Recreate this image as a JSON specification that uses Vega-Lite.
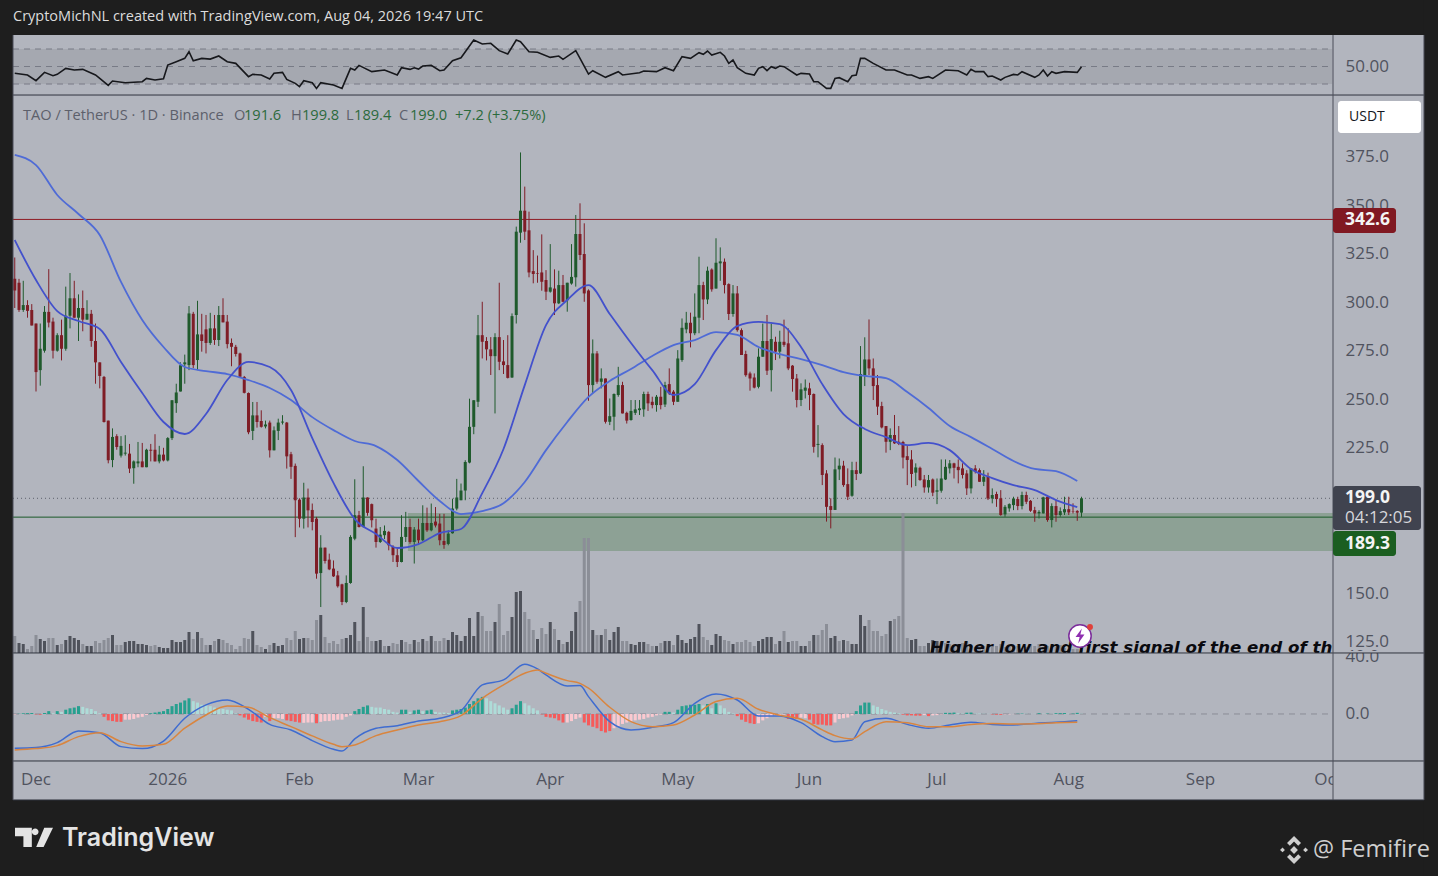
{
"$schema":"https://vega.github.io/schema/vega-lite/v6.json",
"width":1438,"height":876,"padding":0,"autosize":{"type":"none"},
"background":"#1e1e1e",
"view":{"fill":"#b2b5be","stroke":null},
"title":{"text":"CryptoMichNL created with TradingView.com, Aug 04, 2026 19:47 UTC","anchor":"start","frame":"group","offset":-24,"dx":13,"color":"#dcdcdc","font":"Open Sans","fontSize":14.5,"fontWeight":"normal","zindex":1},
"config":{"axis":{"domain":false,"ticks":false,"grid":false,"title":null,"labelFont":"Open Sans","labelFontSize":17,"labelColor":"#50535e","labelOverlap":false,"labelFlush":false,"labelBaseline":"middle","labelPadding":0,"zindex":0}},
"resolve":{"scale":{"y":"independent"}},
"datasets":{
"candles":[
{"date":"2025-11-26","open":312,"high":323,"low":297,"close":306},
{"date":"2025-11-27","open":310,"high":312,"low":295,"close":296},
{"date":"2025-11-28","open":296,"high":311,"low":295,"close":298.5},
{"date":"2025-11-29","open":298.5,"high":301,"low":292,"close":295.5},
{"date":"2025-11-30","open":296,"high":299,"low":288,"close":288},
{"date":"2025-12-01","open":289,"high":289,"low":254,"close":264},
{"date":"2025-12-02","open":265,"high":289,"low":257,"close":276},
{"date":"2025-12-03","open":275,"high":298,"low":274,"close":295},
{"date":"2025-12-04","open":295,"high":317,"low":287,"close":289.5},
{"date":"2025-12-05","open":290,"high":292,"low":271,"close":275},
{"date":"2025-12-06","open":275,"high":284,"low":274.5,"close":283},
{"date":"2025-12-07","open":283,"high":291,"low":270,"close":276},
{"date":"2025-12-08","open":276,"high":308,"low":275,"close":293},
{"date":"2025-12-09","open":293,"high":315,"low":286.5,"close":302},
{"date":"2025-12-10","open":302,"high":311,"low":292,"close":292},
{"date":"2025-12-11","open":292,"high":304,"low":280,"close":297},
{"date":"2025-12-12","open":297,"high":306,"low":285,"close":291},
{"date":"2025-12-13","open":291,"high":301,"low":291,"close":294},
{"date":"2025-12-14","open":294,"high":296,"low":277,"close":280},
{"date":"2025-12-15","open":280,"high":289,"low":258,"close":269},
{"date":"2025-12-16","open":269,"high":269,"low":255.6,"close":262},
{"date":"2025-12-17","open":261.5,"high":262,"low":238,"close":238.3},
{"date":"2025-12-18","open":239,"high":239,"low":217,"close":218.6},
{"date":"2025-12-19","open":218.7,"high":235,"low":215,"close":230.6},
{"date":"2025-12-20","open":231,"high":232,"low":224,"close":225.4},
{"date":"2025-12-21","open":221,"high":231,"low":220,"close":226},
{"date":"2025-12-22","open":222,"high":231.5,"low":221,"close":222.5},
{"date":"2025-12-23","open":222,"high":227,"low":212,"close":214.3},
{"date":"2025-12-24","open":214.5,"high":218.5,"low":206.5,"close":218},
{"date":"2025-12-25","open":217,"high":228,"low":215,"close":218},
{"date":"2025-12-26","open":218,"high":227.5,"low":215,"close":215},
{"date":"2025-12-27","open":215,"high":224.5,"low":215,"close":224},
{"date":"2025-12-28","open":224,"high":227,"low":218,"close":223.5},
{"date":"2025-12-29","open":224,"high":232,"low":218,"close":218},
{"date":"2025-12-30","open":218,"high":226,"low":217,"close":221.5},
{"date":"2025-12-31","open":221.5,"high":225,"low":218,"close":218.5},
{"date":"2026-01-01","open":218.5,"high":230.5,"low":218,"close":230},
{"date":"2026-01-02","open":230,"high":249.5,"low":229,"close":249.5},
{"date":"2026-01-03","open":248,"high":258,"low":243,"close":253.5},
{"date":"2026-01-04","open":254,"high":269,"low":254,"close":267.5},
{"date":"2026-01-05","open":268,"high":273,"low":258,"close":269},
{"date":"2026-01-06","open":267.6,"high":298,"low":265,"close":294.2},
{"date":"2026-01-07","open":294,"high":295,"low":266,"close":267.6},
{"date":"2026-01-08","open":270.2,"high":300.7,"low":265,"close":283.4},
{"date":"2026-01-09","open":283.4,"high":294,"low":274.5,"close":280},
{"date":"2026-01-10","open":286,"high":293.4,"low":273.6,"close":279},
{"date":"2026-01-11","open":279,"high":294.5,"low":278,"close":286.5},
{"date":"2026-01-12","open":286.5,"high":293.4,"low":278,"close":280.5},
{"date":"2026-01-13","open":280.5,"high":298,"low":277.4,"close":293.4},
{"date":"2026-01-14","open":293.4,"high":302,"low":289.6,"close":289.6},
{"date":"2026-01-15","open":290,"high":293.4,"low":276.2,"close":278.4},
{"date":"2026-01-16","open":279,"high":281.3,"low":267,"close":277},
{"date":"2026-01-17","open":277,"high":278,"low":272,"close":273.3},
{"date":"2026-01-18","open":273.6,"high":274,"low":261,"close":261.6},
{"date":"2026-01-19","open":261.5,"high":262,"low":253,"close":253.3},
{"date":"2026-01-20","open":253.2,"high":253.5,"low":232,"close":233},
{"date":"2026-01-21","open":233.7,"high":248.6,"low":229,"close":241.7},
{"date":"2026-01-22","open":241.7,"high":248.6,"low":235.4,"close":238.3},
{"date":"2026-01-23","open":238.8,"high":244.3,"low":235.4,"close":235.8},
{"date":"2026-01-24","open":236,"high":239,"low":235,"close":237},
{"date":"2026-01-25","open":238,"high":239,"low":220,"close":223.7},
{"date":"2026-01-26","open":223.7,"high":236,"low":223.7,"close":234},
{"date":"2026-01-27","open":233.7,"high":240,"low":229,"close":238},
{"date":"2026-01-28","open":238,"high":241.8,"low":237,"close":238.5},
{"date":"2026-01-29","open":238,"high":238.3,"low":214.3,"close":220.6},
{"date":"2026-01-30","open":221.7,"high":222.9,"low":209,"close":215.2},
{"date":"2026-01-31","open":215.7,"high":216.9,"low":179,"close":198},
{"date":"2026-02-01","open":198.3,"high":199,"low":184,"close":188.5},
{"date":"2026-02-02","open":188.5,"high":207,"low":183.4,"close":199.4},
{"date":"2026-02-03","open":199.4,"high":204,"low":184,"close":192.8},
{"date":"2026-02-04","open":193,"high":196.3,"low":182.5,"close":186.8},
{"date":"2026-02-05","open":188.5,"high":189.4,"low":157.6,"close":160.2},
{"date":"2026-02-06","open":160.5,"high":180,"low":143,"close":173.6},
{"date":"2026-02-07","open":173.6,"high":173.6,"low":165.4,"close":166.7},
{"date":"2026-02-08","open":167.4,"high":170.5,"low":162,"close":162.4},
{"date":"2026-02-09","open":162.8,"high":167,"low":158.5,"close":158.8},
{"date":"2026-02-10","open":159.3,"high":161.6,"low":153,"close":153.7},
{"date":"2026-02-11","open":154.7,"high":155,"low":144,"close":145.6},
{"date":"2026-02-12","open":145.6,"high":159.3,"low":145,"close":155.4},
{"date":"2026-02-13","open":155.4,"high":180,"low":155,"close":179.1},
{"date":"2026-02-14","open":178.2,"high":208.8,"low":177.4,"close":190.3},
{"date":"2026-02-15","open":190.3,"high":192.5,"low":184,"close":184.2},
{"date":"2026-02-16","open":184.2,"high":215.5,"low":184,"close":199.4},
{"date":"2026-02-17","open":199.4,"high":199.5,"low":190,"close":191.5},
{"date":"2026-02-18","open":196,"high":196.3,"low":184,"close":187.7},
{"date":"2026-02-19","open":183.4,"high":188.5,"low":173.6,"close":176.5},
{"date":"2026-02-20","open":176.5,"high":184.2,"low":176,"close":180.3},
{"date":"2026-02-21","open":180,"high":185,"low":178,"close":182.2},
{"date":"2026-02-22","open":181.7,"high":182.2,"low":172.2,"close":174.8},
{"date":"2026-02-23","open":174,"high":174.8,"low":166.2,"close":169.7},
{"date":"2026-02-24","open":169.7,"high":173,"low":163.6,"close":166.2},
{"date":"2026-02-25","open":166.2,"high":190.3,"low":166,"close":179.1},
{"date":"2026-02-26","open":179.1,"high":192,"low":176.5,"close":184.2},
{"date":"2026-02-27","open":184.2,"high":188.5,"low":175.6,"close":176.5},
{"date":"2026-02-28","open":176.5,"high":184.2,"low":165.4,"close":182.9},
{"date":"2026-03-01","open":182.9,"high":188.5,"low":175.6,"close":177.4},
{"date":"2026-03-02","open":177.4,"high":195.4,"low":177,"close":186.3},
{"date":"2026-03-03","open":186.3,"high":194.2,"low":181.7,"close":182.5},
{"date":"2026-03-04","open":182.5,"high":196.3,"low":182,"close":186.3},
{"date":"2026-03-05","open":187,"high":194.5,"low":184,"close":185},
{"date":"2026-03-06","open":186,"high":191,"low":174.8,"close":177.4},
{"date":"2026-03-07","open":177,"high":191,"low":173,"close":175},
{"date":"2026-03-08","open":175.5,"high":182.5,"low":174.8,"close":180.8},
{"date":"2026-03-09","open":181,"high":198.8,"low":180.8,"close":193.7},
{"date":"2026-03-10","open":193.7,"high":209,"low":192.8,"close":199.4},
{"date":"2026-03-11","open":198,"high":206.6,"low":198,"close":203},
{"date":"2026-03-12","open":203,"high":218.6,"low":198,"close":217.7},
{"date":"2026-03-13","open":217.4,"high":250.3,"low":217,"close":235.8},
{"date":"2026-03-14","open":235.8,"high":249.5,"low":232,"close":249.5},
{"date":"2026-03-15","open":248.7,"high":293.4,"low":246,"close":283},
{"date":"2026-03-16","open":283,"high":300.2,"low":271,"close":279.6},
{"date":"2026-03-17","open":280,"high":282,"low":270,"close":275.7},
{"date":"2026-03-18","open":275.7,"high":282,"low":262.5,"close":272.2},
{"date":"2026-03-19","open":272.2,"high":284,"low":242.7,"close":282},
{"date":"2026-03-20","open":282,"high":310,"low":265,"close":269.3},
{"date":"2026-03-21","open":269.5,"high":280.5,"low":263,"close":267.6},
{"date":"2026-03-22","open":267.6,"high":283,"low":260.7,"close":261},
{"date":"2026-03-23","open":261.2,"high":294.2,"low":261,"close":292.8},
{"date":"2026-03-24","open":293.4,"high":338.9,"low":289,"close":336.3},
{"date":"2026-03-25","open":335.8,"high":377.1,"low":330.6,"close":347.1},
{"date":"2026-03-26","open":347.1,"high":359.5,"low":332,"close":336.3},
{"date":"2026-03-27","open":337,"high":346.6,"low":312.8,"close":315.3},
{"date":"2026-03-28","open":316,"high":326.8,"low":309.7,"close":314.5},
{"date":"2026-03-29","open":315,"high":324,"low":310,"close":314.7},
{"date":"2026-03-30","open":315.3,"high":334.9,"low":305.9,"close":310.5},
{"date":"2026-03-31","open":311.4,"high":316.5,"low":301.1,"close":305.4},
{"date":"2026-04-01","open":305.4,"high":329.9,"low":304.9,"close":307.6},
{"date":"2026-04-02","open":307,"high":316.9,"low":293.4,"close":299.4},
{"date":"2026-04-03","open":299.4,"high":316.2,"low":299,"close":308.8},
{"date":"2026-04-04","open":308.8,"high":314,"low":300,"close":300.2},
{"date":"2026-04-05","open":301,"high":310,"low":295.1,"close":310},
{"date":"2026-04-06","open":309.6,"high":329.9,"low":309,"close":313},
{"date":"2026-04-07","open":312.8,"high":344.9,"low":308,"close":335.1},
{"date":"2026-04-08","open":335.1,"high":350.9,"low":321.7,"close":324.3},
{"date":"2026-04-09","open":324.8,"high":340.6,"low":300.2,"close":304.5},
{"date":"2026-04-10","open":306,"high":306.6,"low":249.2,"close":257.3},
{"date":"2026-04-11","open":257.3,"high":280.8,"low":253,"close":273.6},
{"date":"2026-04-12","open":273.6,"high":274.8,"low":258,"close":259},
{"date":"2026-04-13","open":259,"high":265.9,"low":255.6,"close":260.7},
{"date":"2026-04-14","open":260.7,"high":260.7,"low":237.5,"close":238.4},
{"date":"2026-04-15","open":238.4,"high":250.4,"low":236.7,"close":241.3},
{"date":"2026-04-16","open":241,"high":253,"low":234,"close":252.7},
{"date":"2026-04-17","open":252.2,"high":266.7,"low":251.3,"close":257.3},
{"date":"2026-04-18","open":257.3,"high":259,"low":242.7,"close":242.7},
{"date":"2026-04-19","open":243,"high":243.6,"low":237.5,"close":239},
{"date":"2026-04-20","open":239.3,"high":249.6,"low":239,"close":244},
{"date":"2026-04-21","open":243,"high":249.6,"low":241.9,"close":244.8},
{"date":"2026-04-22","open":244.4,"high":249.6,"low":241.9,"close":245.3},
{"date":"2026-04-23","open":244.8,"high":253.9,"low":241,"close":252.7},
{"date":"2026-04-24","open":252.7,"high":253.9,"low":244,"close":247.9},
{"date":"2026-04-25","open":248.7,"high":251.3,"low":245.3,"close":247},
{"date":"2026-04-26","open":247,"high":252.2,"low":243.6,"close":251.3},
{"date":"2026-04-27","open":251.3,"high":256.4,"low":244.8,"close":247},
{"date":"2026-04-28","open":247.3,"high":259,"low":246,"close":257.3},
{"date":"2026-04-29","open":257.8,"high":265.9,"low":252.2,"close":253},
{"date":"2026-04-30","open":253.9,"high":254.7,"low":247,"close":248.7},
{"date":"2026-05-01","open":248.7,"high":275.3,"low":248.7,"close":271},
{"date":"2026-05-02","open":270.2,"high":291.6,"low":269.3,"close":286.8},
{"date":"2026-05-03","open":286,"high":295,"low":284,"close":289.4},
{"date":"2026-05-04","open":289.4,"high":294.6,"low":276.7,"close":284},
{"date":"2026-05-05","open":284,"high":304.5,"low":283,"close":292.5},
{"date":"2026-05-06","open":292,"high":323.4,"low":284,"close":308.8},
{"date":"2026-05-07","open":308.8,"high":310.5,"low":290.8,"close":301.4},
{"date":"2026-05-08","open":301.4,"high":318.3,"low":299,"close":316.2},
{"date":"2026-05-09","open":316.8,"high":317.4,"low":305.4,"close":306.6},
{"date":"2026-05-10","open":307,"high":332.9,"low":307,"close":320.3},
{"date":"2026-05-11","open":320,"high":328.2,"low":311,"close":321},
{"date":"2026-05-12","open":320.8,"high":322.5,"low":304.5,"close":308.8},
{"date":"2026-05-13","open":309.3,"high":309.7,"low":290.8,"close":293.9},
{"date":"2026-05-14","open":293.9,"high":308.8,"low":292.5,"close":304.5},
{"date":"2026-05-15","open":304.5,"high":308.3,"low":284.8,"close":285.6},
{"date":"2026-05-16","open":285.6,"high":286.5,"low":272.8,"close":272.8},
{"date":"2026-05-17","open":273.3,"high":275,"low":261.6,"close":262.4},
{"date":"2026-05-18","open":263.3,"high":264.2,"low":254.4,"close":260.7},
{"date":"2026-05-19","open":261.2,"high":263.3,"low":255.6,"close":256},
{"date":"2026-05-20","open":256.4,"high":276.2,"low":255.6,"close":271.9},
{"date":"2026-05-21","open":271.9,"high":289,"low":271.9,"close":280},
{"date":"2026-05-22","open":280,"high":293.4,"low":262.5,"close":264.7},
{"date":"2026-05-23","open":265,"high":289,"low":254,"close":281},
{"date":"2026-05-24","open":279.6,"high":282.2,"low":270.2,"close":274.5},
{"date":"2026-05-25","open":274.5,"high":285.3,"low":271,"close":279.6},
{"date":"2026-05-26","open":279.6,"high":291,"low":277,"close":278},
{"date":"2026-05-27","open":278.8,"high":286.5,"low":265,"close":265.9},
{"date":"2026-05-28","open":267.3,"high":267.6,"low":253.9,"close":260.4},
{"date":"2026-05-29","open":260.7,"high":263,"low":245.8,"close":249.6},
{"date":"2026-05-30","open":249.6,"high":258.2,"low":246.5,"close":255.1},
{"date":"2026-05-31","open":254.4,"high":260.2,"low":250.4,"close":256},
{"date":"2026-06-01","open":255.6,"high":258.5,"low":244.4,"close":252.2},
{"date":"2026-06-02","open":252.7,"high":253,"low":222.5,"close":225.5},
{"date":"2026-06-03","open":226.5,"high":236.7,"low":220.1,"close":227},
{"date":"2026-06-04","open":226.4,"high":227.3,"low":205.8,"close":211},
{"date":"2026-06-05","open":211.8,"high":213.5,"low":187,"close":194.6},
{"date":"2026-06-06","open":195,"high":199,"low":183.5,"close":193},
{"date":"2026-06-07","open":193,"high":220,"low":193,"close":213.9},
{"date":"2026-06-08","open":213.9,"high":219.5,"low":208.4,"close":215.8},
{"date":"2026-06-09","open":215.8,"high":218.3,"low":204.9,"close":205.8},
{"date":"2026-06-10","open":206.3,"high":214.4,"low":198.1,"close":199.8},
{"date":"2026-06-11","open":200.3,"high":217.8,"low":199.8,"close":213.5},
{"date":"2026-06-12","open":213.5,"high":217.8,"low":208.4,"close":211.5},
{"date":"2026-06-13","open":211.8,"high":277.4,"low":211.5,"close":263},
{"date":"2026-06-14","open":262,"high":281.9,"low":256.8,"close":270.5},
{"date":"2026-06-15","open":270.5,"high":291.1,"low":262.5,"close":265.9},
{"date":"2026-06-16","open":265.9,"high":271,"low":249.6,"close":256.8},
{"date":"2026-06-17","open":257.3,"high":262.5,"low":241.9,"close":246.2},
{"date":"2026-06-18","open":246.5,"high":248.7,"low":235,"close":235.5},
{"date":"2026-06-19","open":236.2,"high":236.2,"low":222.5,"close":228.1},
{"date":"2026-06-20","open":228.1,"high":235,"low":223.8,"close":231.6},
{"date":"2026-06-21","open":231.6,"high":241.9,"low":227,"close":227.3},
{"date":"2026-06-22","open":228.1,"high":236.2,"low":226.4,"close":227},
{"date":"2026-06-23","open":228,"high":228.6,"low":214.4,"close":220},
{"date":"2026-06-24","open":220.7,"high":225.9,"low":205.8,"close":218.7},
{"date":"2026-06-25","open":219,"high":223.8,"low":204.6,"close":211.5},
{"date":"2026-06-26","open":212.2,"high":217,"low":205.3,"close":214.9},
{"date":"2026-06-27","open":214.7,"high":215.3,"low":208,"close":208.4},
{"date":"2026-06-28","open":208.7,"high":211,"low":201.9,"close":204.6},
{"date":"2026-06-29","open":204.6,"high":211,"low":201.9,"close":208.4},
{"date":"2026-06-30","open":208.7,"high":209.2,"low":200.1,"close":201.9},
{"date":"2026-07-01","open":202.4,"high":209.2,"low":196,"close":203.1},
{"date":"2026-07-02","open":202.9,"high":219,"low":201.9,"close":209.2},
{"date":"2026-07-03","open":208.7,"high":219,"low":208.4,"close":215.2},
{"date":"2026-07-04","open":214.4,"high":218.7,"low":211.8,"close":217},
{"date":"2026-07-05","open":217,"high":217.3,"low":209.2,"close":214.7},
{"date":"2026-07-06","open":215.2,"high":219,"low":206.7,"close":213.5},
{"date":"2026-07-07","open":214.4,"high":217,"low":209.2,"close":211},
{"date":"2026-07-08","open":211.8,"high":213.5,"low":200.7,"close":204.1},
{"date":"2026-07-09","open":204.1,"high":214.4,"low":201.5,"close":214.4},
{"date":"2026-07-10","open":214.4,"high":216.1,"low":211.8,"close":212.7},
{"date":"2026-07-11","open":213.5,"high":214.4,"low":207.5,"close":207.5},
{"date":"2026-07-12","open":207.5,"high":213.5,"low":205.3,"close":210.1},
{"date":"2026-07-13","open":210.4,"high":212.2,"low":198.1,"close":198.9},
{"date":"2026-07-14","open":198.9,"high":204.1,"low":196.4,"close":200.7},
{"date":"2026-07-15","open":201.2,"high":202.4,"low":194.6,"close":198.6},
{"date":"2026-07-16","open":199,"high":203.2,"low":190,"close":190.4},
{"date":"2026-07-17","open":190.7,"high":195.5,"low":189.5,"close":194.6},
{"date":"2026-07-18","open":193.8,"high":196.4,"low":192.1,"close":196},
{"date":"2026-07-19","open":195.5,"high":199.8,"low":192.9,"close":198.9},
{"date":"2026-07-20","open":198.6,"high":199.8,"low":192.9,"close":195},
{"date":"2026-07-21","open":195,"high":202.4,"low":193.3,"close":200.7},
{"date":"2026-07-22","open":200.7,"high":202.4,"low":196,"close":197.2},
{"date":"2026-07-23","open":197.7,"high":198.1,"low":192,"close":192.6},
{"date":"2026-07-24","open":192.9,"high":194.6,"low":186.9,"close":191.2},
{"date":"2026-07-25","open":191.2,"high":192.9,"low":188.6,"close":192},
{"date":"2026-07-26","open":191.2,"high":199.8,"low":191.2,"close":199.5},
{"date":"2026-07-27","open":199.8,"high":200.7,"low":186.9,"close":187.8},
{"date":"2026-07-28","open":187.8,"high":196.4,"low":184,"close":195},
{"date":"2026-07-29","open":195,"high":198.4,"low":186.9,"close":190.4},
{"date":"2026-07-30","open":190.4,"high":194.3,"low":189.5,"close":192.4},
{"date":"2026-07-31","open":191.7,"high":199.8,"low":190.4,"close":193.4},
{"date":"2026-08-01","open":193.4,"high":199.8,"low":190.4,"close":191.7},
{"date":"2026-08-02","open":192.2,"high":196.4,"low":191.2,"close":192},
{"date":"2026-08-03","open":192.5,"high":192.9,"low":187.4,"close":191.6},
{"date":"2026-08-04","open":191.6,"high":199.8,"low":189.4,"close":199}
],
"volume":[
{"date":"2025-11-26","vol":17,"side":"buy"},{"date":"2025-11-27","vol":10,"side":"sell"},{"date":"2025-11-28","vol":9,"side":"sell"},{"date":"2025-11-29","vol":4,"side":"buy"},{"date":"2025-11-30","vol":7,"side":"buy"},
{"date":"2025-12-01","vol":18,"side":"buy"},{"date":"2025-12-02","vol":14,"side":"sell"},{"date":"2025-12-03","vol":12,"side":"sell"},{"date":"2025-12-04","vol":15,"side":"buy"},{"date":"2025-12-05","vol":15,"side":"buy"},{"date":"2025-12-06","vol":8,"side":"sell"},{"date":"2025-12-07","vol":9,"side":"buy"},{"date":"2025-12-08","vol":13,"side":"sell"},{"date":"2025-12-09","vol":17,"side":"sell"},{"date":"2025-12-10","vol":15,"side":"sell"},{"date":"2025-12-11","vol":13,"side":"sell"},{"date":"2025-12-12","vol":9,"side":"buy"},{"date":"2025-12-13","vol":7,"side":"sell"},{"date":"2025-12-14","vol":7,"side":"sell"},{"date":"2025-12-15","vol":12,"side":"buy"},{"date":"2025-12-16","vol":10,"side":"buy"},{"date":"2025-12-17","vol":13,"side":"buy"},{"date":"2025-12-18","vol":15,"side":"buy"},{"date":"2025-12-19","vol":18,"side":"sell"},{"date":"2025-12-20","vol":8,"side":"buy"},{"date":"2025-12-21","vol":8,"side":"buy"},{"date":"2025-12-22","vol":11,"side":"sell"},{"date":"2025-12-23","vol":12,"side":"sell"},{"date":"2025-12-24","vol":12,"side":"sell"},{"date":"2025-12-25","vol":9,"side":"sell"},{"date":"2025-12-26","vol":9,"side":"sell"},{"date":"2025-12-27","vol":8,"side":"sell"},{"date":"2025-12-28","vol":7,"side":"buy"},{"date":"2025-12-29","vol":8,"side":"buy"},{"date":"2025-12-30","vol":6,"side":"sell"},{"date":"2025-12-31","vol":5,"side":"sell"},
{"date":"2026-01-01","vol":5,"side":"sell"},{"date":"2026-01-02","vol":13,"side":"sell"},{"date":"2026-01-03","vol":11,"side":"sell"},{"date":"2026-01-04","vol":11,"side":"sell"},{"date":"2026-01-05","vol":13,"side":"sell"},{"date":"2026-01-06","vol":21,"side":"sell"},{"date":"2026-01-07","vol":14,"side":"buy"},{"date":"2026-01-08","vol":21,"side":"sell"},{"date":"2026-01-09","vol":15,"side":"buy"},{"date":"2026-01-10","vol":8,"side":"buy"},{"date":"2026-01-11","vol":8,"side":"sell"},{"date":"2026-01-12","vol":12,"side":"buy"},{"date":"2026-01-13","vol":14,"side":"sell"},{"date":"2026-01-14","vol":13,"side":"buy"},{"date":"2026-01-15","vol":10,"side":"buy"},{"date":"2026-01-16","vol":8,"side":"buy"},{"date":"2026-01-17","vol":4,"side":"buy"},{"date":"2026-01-18","vol":7,"side":"buy"},{"date":"2026-01-19","vol":15,"side":"buy"},{"date":"2026-01-20","vol":14,"side":"buy"},{"date":"2026-01-21","vol":22,"side":"sell"},{"date":"2026-01-22","vol":8,"side":"buy"},{"date":"2026-01-23","vol":6,"side":"buy"},{"date":"2026-01-24","vol":4,"side":"sell"},{"date":"2026-01-25","vol":8,"side":"buy"},{"date":"2026-01-26","vol":10,"side":"sell"},{"date":"2026-01-27","vol":7,"side":"sell"},{"date":"2026-01-28","vol":8,"side":"sell"},{"date":"2026-01-29","vol":15,"side":"buy"},{"date":"2026-01-30","vol":13,"side":"buy"},{"date":"2026-01-31","vol":22,"side":"buy"},
{"date":"2026-02-01","vol":14,"side":"sell"},{"date":"2026-02-02","vol":15,"side":"sell"},{"date":"2026-02-03","vol":15,"side":"buy"},{"date":"2026-02-04","vol":13,"side":"buy"},{"date":"2026-02-05","vol":33,"side":"buy"},{"date":"2026-02-06","vol":38,"side":"sell"},{"date":"2026-02-07","vol":16,"side":"buy"},{"date":"2026-02-08","vol":10,"side":"buy"},{"date":"2026-02-09","vol":12,"side":"buy"},{"date":"2026-02-10","vol":9,"side":"buy"},{"date":"2026-02-11","vol":14,"side":"buy"},{"date":"2026-02-12","vol":15,"side":"sell"},{"date":"2026-02-13","vol":18,"side":"sell"},{"date":"2026-02-14","vol":31,"side":"sell"},{"date":"2026-02-15","vol":12,"side":"buy"},{"date":"2026-02-16","vol":46,"side":"sell"},{"date":"2026-02-17","vol":16,"side":"buy"},{"date":"2026-02-18","vol":12,"side":"buy"},{"date":"2026-02-19","vol":12,"side":"sell"},{"date":"2026-02-20","vol":13,"side":"sell"},{"date":"2026-02-21","vol":7,"side":"buy"},{"date":"2026-02-22","vol":7,"side":"sell"},{"date":"2026-02-23","vol":10,"side":"buy"},{"date":"2026-02-24","vol":9,"side":"buy"},{"date":"2026-02-25","vol":13,"side":"sell"},{"date":"2026-02-26","vol":11,"side":"buy"},{"date":"2026-02-27","vol":9,"side":"buy"},{"date":"2026-02-28","vol":13,"side":"sell"},
{"date":"2026-03-01","vol":11,"side":"buy"},{"date":"2026-03-02","vol":14,"side":"sell"},{"date":"2026-03-03","vol":12,"side":"buy"},{"date":"2026-03-04","vol":17,"side":"sell"},{"date":"2026-03-05","vol":12,"side":"buy"},{"date":"2026-03-06","vol":12,"side":"buy"},{"date":"2026-03-07","vol":15,"side":"buy"},{"date":"2026-03-08","vol":13,"side":"sell"},{"date":"2026-03-09","vol":21,"side":"sell"},{"date":"2026-03-10","vol":18,"side":"sell"},{"date":"2026-03-11","vol":12,"side":"sell"},{"date":"2026-03-12","vol":17,"side":"sell"},{"date":"2026-03-13","vol":35,"side":"sell"},{"date":"2026-03-14","vol":17,"side":"sell"},{"date":"2026-03-15","vol":41,"side":"sell"},{"date":"2026-03-16","vol":37,"side":"buy"},{"date":"2026-03-17","vol":22,"side":"buy"},{"date":"2026-03-18","vol":22,"side":"buy"},{"date":"2026-03-19","vol":31,"side":"sell"},{"date":"2026-03-20","vol":49,"side":"buy"},{"date":"2026-03-21","vol":18,"side":"buy"},{"date":"2026-03-22","vol":22,"side":"buy"},{"date":"2026-03-23","vol":36,"side":"sell"},{"date":"2026-03-24","vol":61,"side":"sell"},{"date":"2026-03-25","vol":62,"side":"sell"},{"date":"2026-03-26","vol":41,"side":"buy"},{"date":"2026-03-27","vol":34,"side":"buy"},{"date":"2026-03-28","vol":23,"side":"buy"},{"date":"2026-03-29","vol":14,"side":"sell"},{"date":"2026-03-30","vol":25,"side":"buy"},{"date":"2026-03-31","vol":19,"side":"buy"},
{"date":"2026-04-01","vol":31,"side":"sell"},{"date":"2026-04-02","vol":24,"side":"buy"},{"date":"2026-04-03","vol":13,"side":"sell"},{"date":"2026-04-04","vol":9,"side":"buy"},{"date":"2026-04-05","vol":11,"side":"sell"},{"date":"2026-04-06","vol":22,"side":"sell"},{"date":"2026-04-07","vol":41,"side":"sell"},{"date":"2026-04-08","vol":52,"side":"buy"},{"date":"2026-04-09","vol":115,"side":"buy"},{"date":"2026-04-10","vol":115,"side":"buy"},{"date":"2026-04-11","vol":23,"side":"sell"},{"date":"2026-04-12","vol":18,"side":"buy"},{"date":"2026-04-13","vol":18,"side":"sell"},{"date":"2026-04-14","vol":24,"side":"buy"},{"date":"2026-04-15","vol":13,"side":"sell"},{"date":"2026-04-16","vol":21,"side":"sell"},{"date":"2026-04-17","vol":26,"side":"sell"},{"date":"2026-04-18","vol":12,"side":"buy"},{"date":"2026-04-19","vol":12,"side":"buy"},{"date":"2026-04-20","vol":9,"side":"sell"},{"date":"2026-04-21","vol":8,"side":"sell"},{"date":"2026-04-22","vol":11,"side":"sell"},{"date":"2026-04-23","vol":11,"side":"sell"},{"date":"2026-04-24","vol":9,"side":"buy"},{"date":"2026-04-25","vol":7,"side":"buy"},{"date":"2026-04-26","vol":7,"side":"sell"},{"date":"2026-04-27","vol":10,"side":"buy"},{"date":"2026-04-28","vol":12,"side":"sell"},{"date":"2026-04-29","vol":12,"side":"sell"},{"date":"2026-04-30","vol":8,"side":"buy"},
{"date":"2026-05-01","vol":18,"side":"sell"},{"date":"2026-05-02","vol":13,"side":"sell"},{"date":"2026-05-03","vol":10,"side":"sell"},{"date":"2026-05-04","vol":14,"side":"sell"},{"date":"2026-05-05","vol":16,"side":"sell"},{"date":"2026-05-06","vol":29,"side":"sell"},{"date":"2026-05-07","vol":16,"side":"buy"},{"date":"2026-05-08","vol":13,"side":"buy"},{"date":"2026-05-09","vol":8,"side":"sell"},{"date":"2026-05-10","vol":19,"side":"sell"},{"date":"2026-05-11","vol":17,"side":"sell"},{"date":"2026-05-12","vol":13,"side":"buy"},{"date":"2026-05-13","vol":12,"side":"buy"},{"date":"2026-05-14","vol":9,"side":"sell"},{"date":"2026-05-15","vol":11,"side":"buy"},{"date":"2026-05-16","vol":11,"side":"buy"},{"date":"2026-05-17","vol":13,"side":"buy"},{"date":"2026-05-18","vol":11,"side":"buy"},{"date":"2026-05-19","vol":7,"side":"buy"},{"date":"2026-05-20","vol":12,"side":"sell"},{"date":"2026-05-21","vol":14,"side":"sell"},{"date":"2026-05-22","vol":16,"side":"sell"},{"date":"2026-05-23","vol":16,"side":"sell"},{"date":"2026-05-24","vol":9,"side":"buy"},{"date":"2026-05-25","vol":12,"side":"sell"},{"date":"2026-05-26","vol":22,"side":"buy"},{"date":"2026-05-27","vol":11,"side":"sell"},{"date":"2026-05-28","vol":12,"side":"buy"},{"date":"2026-05-29","vol":12,"side":"buy"},{"date":"2026-05-30","vol":7,"side":"sell"},{"date":"2026-05-31","vol":7,"side":"sell"},
{"date":"2026-06-01","vol":12,"side":"buy"},{"date":"2026-06-02","vol":18,"side":"sell"},{"date":"2026-06-03","vol":18,"side":"buy"},{"date":"2026-06-04","vol":23,"side":"buy"},{"date":"2026-06-05","vol":29,"side":"buy"},{"date":"2026-06-06","vol":15,"side":"sell"},{"date":"2026-06-07","vol":17,"side":"sell"},{"date":"2026-06-08","vol":12,"side":"buy"},{"date":"2026-06-09","vol":13,"side":"sell"},{"date":"2026-06-10","vol":12,"side":"buy"},{"date":"2026-06-11","vol":9,"side":"sell"},{"date":"2026-06-12","vol":9,"side":"sell"},{"date":"2026-06-13","vol":38,"side":"sell"},{"date":"2026-06-14","vol":27,"side":"sell"},{"date":"2026-06-15","vol":33,"side":"buy"},{"date":"2026-06-16","vol":22,"side":"buy"},{"date":"2026-06-17","vol":22,"side":"buy"},{"date":"2026-06-18","vol":17,"side":"buy"},{"date":"2026-06-19","vol":19,"side":"buy"},{"date":"2026-06-20","vol":32,"side":"sell"},{"date":"2026-06-21","vol":34,"side":"buy"},{"date":"2026-06-22","vol":37,"side":"buy"},{"date":"2026-06-23","vol":140,"side":"buy"},{"date":"2026-06-24","vol":15,"side":"buy"},{"date":"2026-06-25","vol":13,"side":"sell"},{"date":"2026-06-26","vol":14,"side":"sell"},{"date":"2026-06-27","vol":7,"side":"buy"},{"date":"2026-06-28","vol":7,"side":"buy"},{"date":"2026-06-29","vol":10,"side":"sell"},{"date":"2026-06-30","vol":13,"side":"sell"},
{"date":"2026-07-01","vol":12,"side":"sell"},{"date":"2026-07-02","vol":11,"side":"buy"},{"date":"2026-07-03","vol":10,"side":"buy"},{"date":"2026-07-04","vol":9,"side":"buy"},{"date":"2026-07-05","vol":8,"side":"buy"},{"date":"2026-07-06","vol":9,"side":"sell"},{"date":"2026-07-07","vol":10,"side":"buy"},{"date":"2026-07-08","vol":11,"side":"buy"},{"date":"2026-07-09","vol":7,"side":"buy"},{"date":"2026-07-10","vol":6,"side":"buy"},{"date":"2026-07-11","vol":8,"side":"buy"},{"date":"2026-07-12","vol":7,"side":"buy"},{"date":"2026-07-13","vol":9,"side":"buy"},{"date":"2026-07-14","vol":8,"side":"buy"},{"date":"2026-07-15","vol":7,"side":"buy"},{"date":"2026-07-16","vol":9,"side":"buy"},{"date":"2026-07-17","vol":6,"side":"buy"},{"date":"2026-07-18","vol":8,"side":"buy"},{"date":"2026-07-19","vol":6,"side":"buy"},{"date":"2026-07-20","vol":7,"side":"buy"},{"date":"2026-07-21","vol":5,"side":"buy"},{"date":"2026-07-22","vol":6,"side":"buy"},{"date":"2026-07-23","vol":8,"side":"buy"},{"date":"2026-07-24","vol":7,"side":"buy"},{"date":"2026-07-25","vol":9,"side":"buy"},{"date":"2026-07-26","vol":6,"side":"buy"},{"date":"2026-07-27","vol":7,"side":"buy"},{"date":"2026-07-28","vol":5,"side":"buy"},{"date":"2026-07-29","vol":6,"side":"buy"},{"date":"2026-07-30","vol":8,"side":"buy"},{"date":"2026-07-31","vol":5,"side":"buy"},
{"date":"2026-08-01","vol":4,"side":"buy"},{"date":"2026-08-02","vol":4,"side":"buy"},{"date":"2026-08-03","vol":4,"side":"buy"},{"date":"2026-08-04","vol":3,"side":"buy"}
],
"ma":[
{"date":"2025-11-26","fast":332,"slow":375.8},{"date":"2025-12-01","fast":311.4,"slow":370.6},{"date":"2025-12-06","fast":295.4,"slow":355.2},{"date":"2025-12-11","fast":290.3,"slow":345.4},{"date":"2025-12-16","fast":286.2,"slow":334.6},{"date":"2025-12-21","fast":269.2,"slow":310.4},{"date":"2025-12-26","fast":253.2,"slow":290.8},{"date":"2025-12-31","fast":238.3,"slow":276.9},{"date":"2026-01-05","fast":232.1,"slow":266.6},{"date":"2026-01-10","fast":242.4,"slow":264.5},{"date":"2026-01-15","fast":259.9,"slow":263},{"date":"2026-01-20","fast":269.2,"slow":259.9},{"date":"2026-01-25","fast":266.6,"slow":255.8},{"date":"2026-01-30","fast":254.8,"slow":249.6},{"date":"2026-02-04","fast":230,"slow":240.8},{"date":"2026-02-09","fast":206.9,"slow":234.1},{"date":"2026-02-14","fast":188.3,"slow":228.5},{"date":"2026-02-19","fast":180.6,"slow":225.9},{"date":"2026-02-24","fast":173.4,"slow":218.7},{"date":"2026-03-01","fast":175.4,"slow":207.9},{"date":"2026-03-06","fast":181.1,"slow":197.6},{"date":"2026-03-11","fast":183.2,"slow":190.9},{"date":"2026-03-16","fast":201.7,"slow":192.4},{"date":"2026-03-21","fast":224.4,"slow":196.5},{"date":"2026-03-26","fast":257.3,"slow":207.4},{"date":"2026-03-31","fast":288.2,"slow":223.8},{"date":"2026-04-05","fast":301.1,"slow":238.3},{"date":"2026-04-10","fast":308.8,"slow":251.2},{"date":"2026-04-15","fast":293.9,"slow":259.4},{"date":"2026-04-20","fast":279,"slow":265.6},{"date":"2026-04-25","fast":265,"slow":272.3},{"date":"2026-04-30","fast":252.2,"slow":277.9},{"date":"2026-05-05","fast":257.8,"slow":280.5},{"date":"2026-05-10","fast":275.3,"slow":284.6},{"date":"2026-05-15","fast":287.7,"slow":283.1},{"date":"2026-05-20","fast":289.8,"slow":276.9},{"date":"2026-05-25","fast":288.7,"slow":273.3},{"date":"2026-05-30","fast":276.9,"slow":270.7},{"date":"2026-06-04","fast":257.8,"slow":267.6},{"date":"2026-06-09","fast":242.4,"slow":264},{"date":"2026-06-14","fast":234.7,"slow":262},{"date":"2026-06-19","fast":230.5,"slow":260.9},{"date":"2026-06-24","fast":226.4,"slow":253.7},{"date":"2026-06-29","fast":227.5,"slow":245.5},{"date":"2026-07-04","fast":223.8,"slow":236.2},{"date":"2026-07-09","fast":214.1,"slow":230.5},{"date":"2026-07-14","fast":209.4,"slow":224.4},{"date":"2026-07-19","fast":205.8,"slow":218.2},{"date":"2026-07-24","fast":203.2,"slow":214.1},{"date":"2026-07-29","fast":198.1,"slow":213},{"date":"2026-08-03","fast":194.5,"slow":207.9}
],
"rsi":[
{"date":"2025-11-26","rsi":42.2},{"date":"2025-11-29","rsi":40.3},{"date":"2025-12-01","rsi":33.8},{"date":"2025-12-03","rsi":43.3},{"date":"2025-12-05","rsi":39.5},{"date":"2025-12-06","rsi":41},{"date":"2025-12-08","rsi":47.9},{"date":"2025-12-10","rsi":46},{"date":"2025-12-12","rsi":46.7},{"date":"2025-12-15","rsi":40.3},{"date":"2025-12-16","rsi":36.4},{"date":"2025-12-18","rsi":28.4},{"date":"2025-12-19","rsi":33.4},{"date":"2025-12-22","rsi":31.5},{"date":"2025-12-26","rsi":32.6},{"date":"2025-12-27","rsi":36.4},{"date":"2025-12-29","rsi":34.6},{"date":"2025-12-31","rsi":36.1},{"date":"2026-01-01","rsi":51.7},{"date":"2026-01-03","rsi":55.5},{"date":"2026-01-05","rsi":59.3},{"date":"2026-01-06","rsi":66.9},{"date":"2026-01-07","rsi":56.6},{"date":"2026-01-09","rsi":59.3},{"date":"2026-01-11","rsi":58.5},{"date":"2026-01-13","rsi":62},{"date":"2026-01-15","rsi":55.5},{"date":"2026-01-17","rsi":53.6},{"date":"2026-01-20","rsi":38.4},{"date":"2026-01-21","rsi":41},{"date":"2026-01-23","rsi":40.3},{"date":"2026-01-25","rsi":35.7},{"date":"2026-01-26","rsi":42.2},{"date":"2026-01-28","rsi":43.3},{"date":"2026-01-29","rsi":35.3},{"date":"2026-01-31","rsi":30.7},{"date":"2026-02-01","rsi":26.9},{"date":"2026-02-02","rsi":33.8},{"date":"2026-02-04","rsi":31.5},{"date":"2026-02-05","rsi":25},{"date":"2026-02-06","rsi":31.5},{"date":"2026-02-09","rsi":28.8},{"date":"2026-02-11","rsi":25},{"date":"2026-02-13","rsi":47.9},{"date":"2026-02-14","rsi":46},{"date":"2026-02-15","rsi":51.3},{"date":"2026-02-18","rsi":44.1},{"date":"2026-02-21","rsi":46},{"date":"2026-02-24","rsi":40.3},{"date":"2026-02-25","rsi":48.6},{"date":"2026-02-27","rsi":46.7},{"date":"2026-02-28","rsi":48.6},{"date":"2026-03-01","rsi":47.1},{"date":"2026-03-02","rsi":50.5},{"date":"2026-03-04","rsi":51.3},{"date":"2026-03-06","rsi":45.2},{"date":"2026-03-07","rsi":46},{"date":"2026-03-09","rsi":56.6},{"date":"2026-03-11","rsi":60},{"date":"2026-03-14","rsi":80.3},{"date":"2026-03-16","rsi":75.7},{"date":"2026-03-18","rsi":76.5},{"date":"2026-03-20","rsi":68.1},{"date":"2026-03-22","rsi":64.3},{"date":"2026-03-24","rsi":80.3},{"date":"2026-03-25","rsi":78.4},{"date":"2026-03-27","rsi":66.9},{"date":"2026-03-29","rsi":66.2},{"date":"2026-04-01","rsi":60.4},{"date":"2026-04-03","rsi":62},{"date":"2026-04-04","rsi":58.2},{"date":"2026-04-07","rsi":68.1},{"date":"2026-04-08","rsi":59.3},{"date":"2026-04-10","rsi":41.4},{"date":"2026-04-11","rsi":45.2},{"date":"2026-04-14","rsi":37.6},{"date":"2026-04-17","rsi":44.1},{"date":"2026-04-18","rsi":40.3},{"date":"2026-04-22","rsi":42.9},{"date":"2026-04-23","rsi":44.8},{"date":"2026-04-26","rsi":44.1},{"date":"2026-04-28","rsi":48.6},{"date":"2026-04-30","rsi":45.2},{"date":"2026-05-02","rsi":61.2},{"date":"2026-05-04","rsi":59.3},{"date":"2026-05-06","rsi":65.8},{"date":"2026-05-07","rsi":63.9},{"date":"2026-05-08","rsi":67.7},{"date":"2026-05-09","rsi":63.1},{"date":"2026-05-11","rsi":66.2},{"date":"2026-05-12","rsi":62},{"date":"2026-05-13","rsi":53.6},{"date":"2026-05-14","rsi":57.4},{"date":"2026-05-15","rsi":48.6},{"date":"2026-05-17","rsi":42.2},{"date":"2026-05-19","rsi":40.3},{"date":"2026-05-20","rsi":47.9},{"date":"2026-05-21","rsi":49.8},{"date":"2026-05-22","rsi":45.2},{"date":"2026-05-23","rsi":49.8},{"date":"2026-05-24","rsi":47.9},{"date":"2026-05-25","rsi":50.5},{"date":"2026-05-26","rsi":49.8},{"date":"2026-05-29","rsi":40.3},{"date":"2026-05-30","rsi":42.2},{"date":"2026-06-01","rsi":41.4},{"date":"2026-06-02","rsi":32.6},{"date":"2026-06-03","rsi":32.6},{"date":"2026-06-05","rsi":25},{"date":"2026-06-06","rsi":25},{"date":"2026-06-07","rsi":36.4},{"date":"2026-06-08","rsi":37.2},{"date":"2026-06-10","rsi":32.6},{"date":"2026-06-11","rsi":39.5},{"date":"2026-06-12","rsi":40.3},{"date":"2026-06-13","rsi":59.3},{"date":"2026-06-14","rsi":59.3},{"date":"2026-06-16","rsi":53.6},{"date":"2026-06-19","rsi":46},{"date":"2026-06-21","rsi":46},{"date":"2026-06-24","rsi":40.3},{"date":"2026-06-25","rsi":40.3},{"date":"2026-06-27","rsi":36.4},{"date":"2026-06-29","rsi":38.4},{"date":"2026-06-30","rsi":36.4},{"date":"2026-07-03","rsi":46},{"date":"2026-07-06","rsi":45.2},{"date":"2026-07-08","rsi":40.3},{"date":"2026-07-09","rsi":46.7},{"date":"2026-07-10","rsi":44.1},{"date":"2026-07-12","rsi":44.1},{"date":"2026-07-13","rsi":38.4},{"date":"2026-07-14","rsi":39.1},{"date":"2026-07-16","rsi":34.6},{"date":"2026-07-17","rsi":37.6},{"date":"2026-07-19","rsi":41},{"date":"2026-07-20","rsi":40.3},{"date":"2026-07-21","rsi":44.1},{"date":"2026-07-24","rsi":37.6},{"date":"2026-07-25","rsi":40.3},{"date":"2026-07-26","rsi":46},{"date":"2026-07-27","rsi":39.1},{"date":"2026-07-28","rsi":44.1},{"date":"2026-07-29","rsi":42.2},{"date":"2026-07-31","rsi":44.1},{"date":"2026-08-03","rsi":43.3},{"date":"2026-08-04","rsi":49.8}
],
"macd":[
{"date":"2025-11-26","macd":-24.1,"signal":-25.3},{"date":"2025-12-01","macd":-23.6,"signal":-24.3},{"date":"2025-12-06","macd":-20.1,"signal":-22.2},{"date":"2025-12-11","macd":-11.9,"signal":-15.9},{"date":"2025-12-16","macd":-13.1,"signal":-13.1},{"date":"2025-12-21","macd":-22.9,"signal":-19.4},{"date":"2025-12-26","macd":-24.3,"signal":-22.5},{"date":"2025-12-31","macd":-19,"signal":-21.3},{"date":"2026-01-05","macd":-3,"signal":-10},{"date":"2026-01-10","macd":6.4,"signal":-0.7},{"date":"2026-01-15","macd":9.8,"signal":5.6},{"date":"2026-01-20","macd":3.3,"signal":4.7},{"date":"2026-01-25","macd":-7.3,"signal":-2.6},{"date":"2026-01-30","macd":-11.2,"signal":-8.9},{"date":"2026-02-04","macd":-18.7,"signal":-15.4},{"date":"2026-02-09","macd":-24.8,"signal":-21.3},{"date":"2026-02-11","macd":-26,"signal":-23},{"date":"2026-02-14","macd":-17.5,"signal":-21.8},{"date":"2026-02-19","macd":-10,"signal":-15.2},{"date":"2026-02-24","macd":-8.2,"signal":-11.2},{"date":"2026-03-01","macd":-4.9,"signal":-7.7},{"date":"2026-03-06","macd":-3,"signal":-5.4},{"date":"2026-03-11","macd":2.3,"signal":-1.2},{"date":"2026-03-16","macd":20.4,"signal":11},{"date":"2026-03-21","macd":23.9,"signal":20.4},{"date":"2026-03-26","macd":34.9,"signal":28.6},{"date":"2026-03-29","macd":31.6,"signal":30.9},{"date":"2026-03-31","macd":27.4,"signal":28.6},{"date":"2026-04-05","macd":19.7,"signal":23.4},{"date":"2026-04-08","macd":19.9,"signal":21.5},{"date":"2026-04-10","macd":12.2,"signal":18.1},{"date":"2026-04-15","macd":-5.4,"signal":4.7},{"date":"2026-04-20","macd":-11.2,"signal":-5.4},{"date":"2026-04-25","macd":-9.4,"signal":-8.9},{"date":"2026-04-30","macd":-6.1,"signal":-7.7},{"date":"2026-05-05","macd":7.5,"signal":-0.7},{"date":"2026-05-10","macd":14,"signal":8.7},{"date":"2026-05-15","macd":9.8,"signal":11},{"date":"2026-05-20","macd":-1.4,"signal":3.3},{"date":"2026-05-25","macd":-1.4,"signal":-0.9},{"date":"2026-05-30","macd":-6.1,"signal":-3.7},{"date":"2026-06-04","macd":-15.9,"signal":-11.2},{"date":"2026-06-07","macd":-19.4,"signal":-15.2},{"date":"2026-06-11","macd":-18.2,"signal":-17.5},{"date":"2026-06-14","macd":-5.4,"signal":-12.4},{"date":"2026-06-19","macd":-3,"signal":-5.4},{"date":"2026-06-24","macd":-7.3,"signal":-6.1},{"date":"2026-06-29","macd":-10,"signal":-8.9},{"date":"2026-07-04","macd":-7.7,"signal":-8.9},{"date":"2026-07-09","macd":-5.8,"signal":-7.3},{"date":"2026-07-14","macd":-7.3,"signal":-6.6},{"date":"2026-07-19","macd":-7.7,"signal":-7},{"date":"2026-07-24","macd":-6.6,"signal":-6.8},{"date":"2026-07-29","macd":-5.8,"signal":-6.1},{"date":"2026-08-03","macd":-4.7,"signal":-5.8}
],
"hist":[
{"date":"2025-11-26","hist":-0.4,"phase":"rise-"},{"date":"2025-11-27","hist":0.2,"phase":"rise+"},{"date":"2025-11-28","hist":0.5,"phase":"rise+"},{"date":"2025-11-29","hist":0.6,"phase":"rise+"},{"date":"2025-11-30","hist":0.7,"phase":"rise+"},
{"date":"2025-12-01","hist":-0.3,"phase":"fall-"},{"date":"2025-12-02","hist":-0.5,"phase":"fall-"},{"date":"2025-12-03","hist":0.7,"phase":"rise+"},{"date":"2025-12-04","hist":2,"phase":"rise+"},{"date":"2025-12-05","hist":0.5,"phase":"fall+"},{"date":"2025-12-06","hist":2,"phase":"rise+"},{"date":"2025-12-07","hist":1.5,"phase":"fall+"},{"date":"2025-12-08","hist":3,"phase":"rise+"},{"date":"2025-12-09","hist":4,"phase":"rise+"},{"date":"2025-12-10","hist":4.5,"phase":"rise+"},{"date":"2025-12-11","hist":5.5,"phase":"rise+"},{"date":"2025-12-12","hist":5,"phase":"fall+"},{"date":"2025-12-13","hist":4,"phase":"fall+"},{"date":"2025-12-14","hist":3.5,"phase":"fall+"},{"date":"2025-12-15","hist":2,"phase":"fall+"},{"date":"2025-12-16","hist":0.5,"phase":"fall+"},{"date":"2025-12-17","hist":-2,"phase":"fall-"},{"date":"2025-12-18","hist":-4.5,"phase":"fall-"},{"date":"2025-12-19","hist":-5,"phase":"fall-"},{"date":"2025-12-20","hist":-5.5,"phase":"fall-"},{"date":"2025-12-21","hist":-5.5,"phase":"fall-"},{"date":"2025-12-22","hist":-4,"phase":"rise-"},{"date":"2025-12-23","hist":-4,"phase":"rise-"},{"date":"2025-12-24","hist":-3.5,"phase":"rise-"},{"date":"2025-12-25","hist":-2.5,"phase":"rise-"},{"date":"2025-12-26","hist":-2,"phase":"rise-"},{"date":"2025-12-27","hist":-0.7,"phase":"rise-"},{"date":"2025-12-28","hist":0.5,"phase":"rise+"},{"date":"2025-12-29","hist":1,"phase":"rise+"},{"date":"2025-12-30","hist":1.5,"phase":"rise+"},{"date":"2025-12-31","hist":2,"phase":"rise+"},
{"date":"2026-01-01","hist":3.5,"phase":"rise+"},{"date":"2026-01-02","hist":5.5,"phase":"rise+"},{"date":"2026-01-03","hist":7,"phase":"rise+"},{"date":"2026-01-04","hist":8,"phase":"rise+"},{"date":"2026-01-05","hist":9.5,"phase":"rise+"},{"date":"2026-01-06","hist":11,"phase":"rise+"},{"date":"2026-01-07","hist":9,"phase":"fall+"},{"date":"2026-01-08","hist":8,"phase":"fall+"},{"date":"2026-01-09","hist":6.5,"phase":"fall+"},{"date":"2026-01-10","hist":6,"phase":"fall+"},{"date":"2026-01-11","hist":5.5,"phase":"fall+"},{"date":"2026-01-12","hist":4.5,"phase":"fall+"},{"date":"2026-01-13","hist":4,"phase":"fall+"},{"date":"2026-01-14","hist":3.5,"phase":"fall+"},{"date":"2026-01-15","hist":3,"phase":"fall+"},{"date":"2026-01-16","hist":2.5,"phase":"fall+"},{"date":"2026-01-17","hist":0.5,"phase":"fall+"},{"date":"2026-01-18","hist":-1,"phase":"fall-"},{"date":"2026-01-19","hist":-2.5,"phase":"fall-"},{"date":"2026-01-20","hist":-4,"phase":"fall-"},{"date":"2026-01-21","hist":-5,"phase":"fall-"},{"date":"2026-01-22","hist":-5.5,"phase":"fall-"},{"date":"2026-01-23","hist":-6,"phase":"fall-"},{"date":"2026-01-24","hist":-2,"phase":"rise-"},{"date":"2026-01-25","hist":-5,"phase":"fall-"},{"date":"2026-01-26","hist":-3,"phase":"rise-"},{"date":"2026-01-27","hist":-3,"phase":"rise-"},{"date":"2026-01-28","hist":-3.5,"phase":"rise-"},{"date":"2026-01-29","hist":-4.5,"phase":"fall-"},{"date":"2026-01-30","hist":-5,"phase":"fall-"},{"date":"2026-01-31","hist":-5.5,"phase":"fall-"},
{"date":"2026-02-01","hist":-6,"phase":"fall-"},{"date":"2026-02-02","hist":-6.2,"phase":"rise-"},{"date":"2026-02-03","hist":-6,"phase":"rise-"},{"date":"2026-02-04","hist":-6,"phase":"rise-"},{"date":"2026-02-05","hist":-6.5,"phase":"fall-"},{"date":"2026-02-06","hist":-5.5,"phase":"rise-"},{"date":"2026-02-07","hist":-5,"phase":"rise-"},{"date":"2026-02-08","hist":-5,"phase":"rise-"},{"date":"2026-02-09","hist":-4.5,"phase":"rise-"},{"date":"2026-02-10","hist":-4,"phase":"rise-"},{"date":"2026-02-11","hist":-4,"phase":"rise-"},{"date":"2026-02-12","hist":-2,"phase":"rise-"},{"date":"2026-02-13","hist":-1,"phase":"rise-"},{"date":"2026-02-14","hist":2,"phase":"rise+"},{"date":"2026-02-15","hist":3.5,"phase":"rise+"},{"date":"2026-02-16","hist":5,"phase":"rise+"},{"date":"2026-02-17","hist":6,"phase":"rise+"},{"date":"2026-02-18","hist":5,"phase":"fall+"},{"date":"2026-02-19","hist":4.5,"phase":"fall+"},{"date":"2026-02-20","hist":4.5,"phase":"fall+"},{"date":"2026-02-21","hist":3.5,"phase":"fall+"},{"date":"2026-02-22","hist":3,"phase":"fall+"},{"date":"2026-02-23","hist":1.5,"phase":"fall+"},{"date":"2026-02-24","hist":1,"phase":"fall+"},{"date":"2026-02-25","hist":3,"phase":"rise+"},{"date":"2026-02-26","hist":3,"phase":"rise+"},{"date":"2026-02-27","hist":1.5,"phase":"fall+"},{"date":"2026-02-28","hist":2.5,"phase":"rise+"},
{"date":"2026-03-01","hist":3,"phase":"rise+"},{"date":"2026-03-02","hist":2,"phase":"fall+"},{"date":"2026-03-03","hist":2.5,"phase":"rise+"},{"date":"2026-03-04","hist":3,"phase":"rise+"},{"date":"2026-03-05","hist":1.5,"phase":"fall+"},{"date":"2026-03-06","hist":1,"phase":"fall+"},{"date":"2026-03-07","hist":1,"phase":"fall+"},{"date":"2026-03-08","hist":0.7,"phase":"fall+"},{"date":"2026-03-09","hist":2.5,"phase":"rise+"},{"date":"2026-03-10","hist":3,"phase":"rise+"},{"date":"2026-03-11","hist":3.5,"phase":"rise+"},{"date":"2026-03-12","hist":4.5,"phase":"rise+"},{"date":"2026-03-13","hist":7,"phase":"rise+"},{"date":"2026-03-14","hist":9,"phase":"rise+"},{"date":"2026-03-15","hist":11,"phase":"rise+"},{"date":"2026-03-16","hist":12,"phase":"rise+"},{"date":"2026-03-17","hist":11,"phase":"fall+"},{"date":"2026-03-18","hist":9,"phase":"fall+"},{"date":"2026-03-19","hist":7.5,"phase":"fall+"},{"date":"2026-03-20","hist":6,"phase":"fall+"},{"date":"2026-03-21","hist":4.5,"phase":"fall+"},{"date":"2026-03-22","hist":3,"phase":"fall+"},{"date":"2026-03-23","hist":4,"phase":"rise+"},{"date":"2026-03-24","hist":6.5,"phase":"rise+"},{"date":"2026-03-25","hist":9,"phase":"rise+"},{"date":"2026-03-26","hist":7.5,"phase":"fall+"},{"date":"2026-03-27","hist":6,"phase":"fall+"},{"date":"2026-03-28","hist":4,"phase":"fall+"},{"date":"2026-03-29","hist":2.5,"phase":"fall+"},{"date":"2026-03-30","hist":-0.3,"phase":"fall-"},{"date":"2026-03-31","hist":-2,"phase":"fall-"},
{"date":"2026-04-01","hist":-2.5,"phase":"fall-"},{"date":"2026-04-02","hist":-3,"phase":"fall-"},{"date":"2026-04-03","hist":-4.5,"phase":"fall-"},{"date":"2026-04-04","hist":-6,"phase":"fall-"},{"date":"2026-04-05","hist":-6,"phase":"rise-"},{"date":"2026-04-06","hist":-5,"phase":"rise-"},{"date":"2026-04-07","hist":-3.5,"phase":"rise-"},{"date":"2026-04-08","hist":-2.5,"phase":"rise-"},{"date":"2026-04-09","hist":-6,"phase":"fall-"},{"date":"2026-04-10","hist":-8,"phase":"fall-"},{"date":"2026-04-11","hist":-9,"phase":"fall-"},{"date":"2026-04-12","hist":-10,"phase":"fall-"},{"date":"2026-04-13","hist":-12,"phase":"fall-"},{"date":"2026-04-14","hist":-13,"phase":"fall-"},{"date":"2026-04-15","hist":-12,"phase":"fall-"},{"date":"2026-04-16","hist":-10,"phase":"rise-"},{"date":"2026-04-17","hist":-8.5,"phase":"rise-"},{"date":"2026-04-18","hist":-7,"phase":"rise-"},{"date":"2026-04-19","hist":-6,"phase":"rise-"},{"date":"2026-04-20","hist":-5.5,"phase":"rise-"},{"date":"2026-04-21","hist":-4.5,"phase":"rise-"},{"date":"2026-04-22","hist":-4,"phase":"rise-"},{"date":"2026-04-23","hist":-3.5,"phase":"rise-"},{"date":"2026-04-24","hist":-2.5,"phase":"rise-"},{"date":"2026-04-25","hist":-2,"phase":"rise-"},{"date":"2026-04-26","hist":-1,"phase":"rise-"},{"date":"2026-04-27","hist":-0.5,"phase":"rise-"},{"date":"2026-04-28","hist":1.5,"phase":"rise+"},{"date":"2026-04-29","hist":1.5,"phase":"rise+"},{"date":"2026-04-30","hist":1,"phase":"fall+"},
{"date":"2026-05-01","hist":3,"phase":"rise+"},{"date":"2026-05-02","hist":5.5,"phase":"rise+"},{"date":"2026-05-03","hist":6,"phase":"rise+"},{"date":"2026-05-04","hist":6.5,"phase":"rise+"},{"date":"2026-05-05","hist":6.5,"phase":"rise+"},{"date":"2026-05-06","hist":7,"phase":"rise+"},{"date":"2026-05-07","hist":6,"phase":"fall+"},{"date":"2026-05-08","hist":7,"phase":"rise+"},{"date":"2026-05-09","hist":4,"phase":"fall+"},{"date":"2026-05-10","hist":7.5,"phase":"rise+"},{"date":"2026-05-11","hist":6,"phase":"fall+"},{"date":"2026-05-12","hist":4,"phase":"fall+"},{"date":"2026-05-13","hist":1.5,"phase":"fall+"},{"date":"2026-05-14","hist":0.5,"phase":"fall+"},{"date":"2026-05-15","hist":-1.5,"phase":"fall-"},{"date":"2026-05-16","hist":-4,"phase":"fall-"},{"date":"2026-05-17","hist":-5.5,"phase":"fall-"},{"date":"2026-05-18","hist":-6.5,"phase":"fall-"},{"date":"2026-05-19","hist":-7,"phase":"fall-"},{"date":"2026-05-20","hist":-6.5,"phase":"rise-"},{"date":"2026-05-21","hist":-4.5,"phase":"rise-"},{"date":"2026-05-22","hist":-3,"phase":"rise-"},{"date":"2026-05-23","hist":-1.5,"phase":"rise-"},{"date":"2026-05-24","hist":-1,"phase":"rise-"},{"date":"2026-05-25","hist":-1,"phase":"rise-"},{"date":"2026-05-26","hist":-0.5,"phase":"rise-"},{"date":"2026-05-27","hist":-3.5,"phase":"fall-"},{"date":"2026-05-28","hist":-3.5,"phase":"fall-"},{"date":"2026-05-29","hist":-3.5,"phase":"fall-"},{"date":"2026-05-30","hist":-2.5,"phase":"rise-"},{"date":"2026-05-31","hist":-3,"phase":"rise-"},
{"date":"2026-06-01","hist":-4,"phase":"fall-"},{"date":"2026-06-02","hist":-7,"phase":"fall-"},{"date":"2026-06-03","hist":-7.5,"phase":"fall-"},{"date":"2026-06-04","hist":-7.5,"phase":"fall-"},{"date":"2026-06-05","hist":-8,"phase":"fall-"},{"date":"2026-06-06","hist":-8,"phase":"fall-"},{"date":"2026-06-07","hist":-6,"phase":"rise-"},{"date":"2026-06-08","hist":-3.5,"phase":"rise-"},{"date":"2026-06-09","hist":-3,"phase":"rise-"},{"date":"2026-06-10","hist":-2.5,"phase":"rise-"},{"date":"2026-06-11","hist":-1,"phase":"rise-"},{"date":"2026-06-12","hist":2,"phase":"rise+"},{"date":"2026-06-13","hist":6,"phase":"rise+"},{"date":"2026-06-14","hist":8,"phase":"rise+"},{"date":"2026-06-15","hist":8,"phase":"rise+"},{"date":"2026-06-16","hist":6,"phase":"fall+"},{"date":"2026-06-17","hist":5,"phase":"fall+"},{"date":"2026-06-18","hist":3.5,"phase":"fall+"},{"date":"2026-06-19","hist":2.5,"phase":"fall+"},{"date":"2026-06-20","hist":1.5,"phase":"fall+"},{"date":"2026-06-21","hist":1,"phase":"fall+"},{"date":"2026-06-22","hist":0.5,"phase":"fall+"},{"date":"2026-06-23","hist":-0.5,"phase":"fall-"},{"date":"2026-06-24","hist":-1,"phase":"fall-"},{"date":"2026-06-25","hist":-1,"phase":"fall-"},{"date":"2026-06-26","hist":-1.2,"phase":"fall-"},{"date":"2026-06-27","hist":-1.2,"phase":"fall-"},{"date":"2026-06-28","hist":-0.8,"phase":"rise-"},{"date":"2026-06-29","hist":-1.5,"phase":"fall-"},{"date":"2026-06-30","hist":-1,"phase":"rise-"},
{"date":"2026-07-01","hist":-0.8,"phase":"rise-"},{"date":"2026-07-02","hist":-0.3,"phase":"rise-"},{"date":"2026-07-03","hist":0.8,"phase":"rise+"},{"date":"2026-07-04","hist":0.8,"phase":"rise+"},{"date":"2026-07-05","hist":1,"phase":"rise+"},{"date":"2026-07-06","hist":0.5,"phase":"fall+"},{"date":"2026-07-07","hist":0.4,"phase":"fall+"},{"date":"2026-07-08","hist":0.9,"phase":"rise+"},{"date":"2026-07-09","hist":1,"phase":"rise+"},{"date":"2026-07-10","hist":0.3,"phase":"fall+"},{"date":"2026-07-11","hist":0.3,"phase":"fall+"},{"date":"2026-07-12","hist":0.2,"phase":"fall+"},{"date":"2026-07-13","hist":0.1,"phase":"fall+"},{"date":"2026-07-14","hist":-0.3,"phase":"fall-"},{"date":"2026-07-15","hist":-0.5,"phase":"fall-"},{"date":"2026-07-16","hist":-0.6,"phase":"fall-"},{"date":"2026-07-17","hist":-0.3,"phase":"rise-"},{"date":"2026-07-18","hist":-0.3,"phase":"rise-"},{"date":"2026-07-19","hist":-0.1,"phase":"rise-"},{"date":"2026-07-20","hist":0.2,"phase":"rise+"},{"date":"2026-07-21","hist":0.3,"phase":"rise+"},{"date":"2026-07-22","hist":0.2,"phase":"fall+"},{"date":"2026-07-23","hist":0.1,"phase":"fall+"},{"date":"2026-07-24","hist":0.1,"phase":"fall+"},{"date":"2026-07-25","hist":0.6,"phase":"rise+"},{"date":"2026-07-26","hist":0.2,"phase":"fall+"},{"date":"2026-07-27","hist":0.3,"phase":"rise+"},{"date":"2026-07-28","hist":0.2,"phase":"fall+"},{"date":"2026-07-29","hist":0.6,"phase":"rise+"},{"date":"2026-07-30","hist":0.6,"phase":"rise+"},{"date":"2026-07-31","hist":0.7,"phase":"rise+"},
{"date":"2026-08-01","hist":0.2,"phase":"fall+"},{"date":"2026-08-02","hist":0.3,"phase":"rise+"},{"date":"2026-08-03","hist":0.8,"phase":"rise+"},{"date":"2026-08-04","hist":0.2,"phase":"fall+"}
],
"rsiLevels":[
{"level":70,"from":"2025-11-25T14:07:00Z","to":"2026-10-01T06:00:00Z"},
{"level":50,"from":"2025-11-25T14:07:00Z","to":"2026-10-01T06:00:00Z"},
{"level":30,"from":"2025-11-25T14:07:00Z","to":"2026-10-01T06:00:00Z"}
],
"rsiBand":[{"from":"2025-11-25T14:07:00Z","to":"2026-10-02T00:00:00Z","top":70,"bottom":30}],
"zone":[{"from":"2026-02-26T12:00:00Z","to":"2026-10-02T04:15:00Z","top":191.4,"bottom":171.8}],
"priceLevels":[
{"name":"resistance","price":342.6,"from":"2025-11-25T14:07:00Z","to":"2026-10-02T04:15:00Z"},
{"name":"support","price":189.3,"from":"2025-11-25T14:07:00Z","to":"2026-10-02T04:15:00Z"}
],
"lastPrice":[{"price":199,"from":"2025-11-25T14:07:00Z","to":"2026-10-02T04:15:00Z"}],
"note":[{"date":"2026-06-29T08:24:00Z","price":119.1,"text":"Higher low and first signal of the end of th"}],
"badge":[{"date":"2026-08-03T15:30:00Z","price":128.1}],
"badgeDot":[{"date":"2026-08-06T00:00:00Z","price":132.7}],
"macdPane":[{"from":"2025-11-25T14:07:00Z","to":"2026-10-02T04:15:00Z","top":119.35,"bottom":63.73}],
"macdZero":[{"level":0,"from":"2025-11-25T14:07:00Z","to":"2026-10-01T06:00:00Z"}],
"months":[
{"date":"2025-12-01","price":53.9,"text":"Dec"},
{"date":"2026-01-01","price":53.9,"text":"2026"},
{"date":"2026-02-01","price":53.9,"text":"Feb"},
{"date":"2026-03-01","price":53.9,"text":"Mar"},
{"date":"2026-04-01","price":53.9,"text":"Apr"},
{"date":"2026-05-01","price":53.9,"text":"May"},
{"date":"2026-06-01","price":53.9,"text":"Jun"},
{"date":"2026-07-01","price":53.9,"text":"Jul"},
{"date":"2026-08-01","price":53.9,"text":"Aug"},
{"date":"2026-09-01","price":53.9,"text":"Sep"},
{"date":"2026-10-01","price":53.9,"text":"Oct"}
],
"frame":[
{"part":"top","from":"2025-11-22T12:42:00Z","to":"2026-10-26T21:07:00Z","top":455.6,"bottom":437.56},
{"part":"bottom","from":"2025-11-22T12:42:00Z","to":"2026-10-26T21:07:00Z","top":43.65,"bottom":4.5},
{"part":"left","from":"2025-11-22T12:42:00Z","to":"2025-11-25T14:07:00Z","top":455.6,"bottom":4.5},
{"part":"right","from":"2026-10-23T14:00:00Z","to":"2026-10-26T21:07:00Z","top":455.6,"bottom":4.5}
],
"gutterMask":[
{"from":"2026-10-02T04:15:00Z","to":"2026-10-23T14:00:00Z","top":63.73,"bottom":43.65},
{"from":"2026-10-02T04:15:00Z","to":"2026-10-23T14:00:00Z","top":120.4,"bottom":119.35}
],
"hLines":[
{"price":406.67,"from":"2025-11-25T14:07:00Z","to":"2026-10-23T14:00:00Z"},
{"price":119.35,"from":"2025-11-25T14:07:00Z","to":"2026-10-23T14:00:00Z"},
{"price":63.73,"from":"2025-11-25T14:07:00Z","to":"2026-10-23T14:00:00Z"},
{"price":43.65,"from":"2025-11-25T14:07:00Z","to":"2026-10-23T14:00:00Z"}
],
"vLines":[
{"date":"2025-11-25T14:07:00Z","top":437.56,"bottom":43.65},
{"date":"2026-10-02T04:15:00Z","top":437.56,"bottom":43.65},
{"date":"2026-10-23T14:00:00Z","top":437.56,"bottom":43.65}
],
"tags":[
{"kind":"usdt","from":"2026-10-03T08:30:00Z","to":"2026-10-22T21:00:00Z","top":403.6,"bottom":387.1},
{"kind":"resistance","from":"2026-10-02T04:15:00Z","to":"2026-10-17T00:00:00Z","top":348.5,"bottom":335.6},
{"kind":"last","from":"2026-10-02T04:15:00Z","to":"2026-10-22T21:00:00Z","top":205.3,"bottom":182.7},
{"kind":"support","from":"2026-10-02T04:15:00Z","to":"2026-10-17T00:00:00Z","top":182.2,"bottom":169.3}
],
"tagText":[
{"date":"2026-10-05T00:00:00Z","price":342.3,"text":"342.6"},
{"date":"2026-10-05T00:00:00Z","price":199,"text":"199.0"},
{"date":"2026-10-05T00:00:00Z","price":175.7,"text":"189.3"}
],
"countdown":[{"date":"2026-10-05T00:00:00Z","price":188.8,"text":"04:12:05"}],
"unit":[{"date":"2026-10-05T22:30:00Z","price":395.6,"text":"USDT"}],
"legendLine":[
{"date":"2025-11-27T22:30:00Z","price":395.9,"text":"TAO / TetherUS · 1D · Binance","tone":"label"},
{"date":"2026-01-16T14:00:00Z","price":395.9,"text":"O","tone":"label"},
{"date":"2026-01-18T22:30:00Z","price":395.9,"text":"191.6","tone":"value"},
{"date":"2026-01-30T00:00:00Z","price":395.9,"text":"H","tone":"label"},
{"date":"2026-02-01T14:00:00Z","price":395.9,"text":"199.8","tone":"value"},
{"date":"2026-02-11T22:30:00Z","price":395.9,"text":"L","tone":"label"},
{"date":"2026-02-13T20:00:00Z","price":395.9,"text":"189.4","tone":"value"},
{"date":"2026-02-24T10:00:00Z","price":395.9,"text":"C","tone":"label"},
{"date":"2026-02-27T00:00:00Z","price":395.9,"text":"199.0","tone":"value"},
{"date":"2026-03-09T14:00:00Z","price":395.9,"text":"+7.2 (+3.75%)","tone":"value"}
],
"brand":[{"date":"2025-12-07T03:00:00Z","price":24.1,"text":"TradingView"}],
"brandLogo":[{"date":"2025-11-30T12:45:00Z","price":24.1}],
"credit":[{"date":"2026-09-27T11:15:00Z","price":17.9,"text":"@ Femifire"}],
"creditLogo":[{"date":"2026-09-23T00:00:00Z","price":17.9}]
},
"layer":[
{"layer":[
{"data":{"name":"rsiBand"},"mark":{"type":"rect","fill":"#a5a8b0"},"encoding":{
"x":{"field":"from","type":"temporal","scale":{"type":"utc","nice":false,"padding":0,"domain":[1763815320000,1793048820000]},"axis":null},"x2":{"field":"to"},
"y":{"field":"top","type":"quantitative","scale":{"domain":[-875.1,126]},"axis":{"orient":"right","offset":-93,"values":[50],"format":".2f"}},"y2":{"field":"bottom"}}},
{"data":{"name":"rsiLevels"},"mark":{"type":"rule","color":"#787b86","strokeWidth":1,"strokeDash":[6,5]},"encoding":{
"x":{"field":"from","type":"temporal","scale":{"type":"utc"},"axis":null},"x2":{"field":"to"},
"y":{"field":"level","type":"quantitative","scale":{"domain":[-875.1,126]}}}},
{"data":{"name":"rsi"},"mark":{"type":"line","color":"#17181c","strokeWidth":1.6},"encoding":{
"x":{"field":"date","type":"temporal","scale":{"type":"utc"},"axis":null},
"y":{"field":"rsi","type":"quantitative","scale":{"domain":[-875.1,126]}}}}
]},
{"layer":[
{"data":{"name":"zone"},"mark":{"type":"rect","fill":"#8da195"},"encoding":{
"x":{"field":"from","type":"temporal","scale":{"type":"utc"},"axis":null},"x2":{"field":"to"},
"y":{"field":"top","type":"quantitative","scale":{"domain":[4.5,455.6]},"axis":{"orient":"right","offset":-93,"values":[125,150,225,250,275,300,325,350,375],"format":".1f"}},"y2":{"field":"bottom"}}},
{"data":{"name":"lastPrice"},"mark":{"type":"rule","color":"#5d606b","strokeWidth":1,"strokeDash":[1,3]},"encoding":{
"x":{"field":"from","type":"temporal","scale":{"type":"utc"},"axis":null},"x2":{"field":"to"},
"y":{"field":"price","type":"quantitative","scale":{"domain":[4.5,455.6]}}}},
{"data":{"name":"priceLevels"},"mark":{"type":"rule","strokeWidth":1},"encoding":{
"x":{"field":"from","type":"temporal","scale":{"type":"utc"},"axis":null},"x2":{"field":"to"},
"y":{"field":"price","type":"quantitative","scale":{"domain":[4.5,455.6]}},
"color":{"condition":{"test":"datum.name=='resistance'","value":"#8f1a24"},"value":"#1b5a28"}}}
]},
{"data":{"name":"volume"},"mark":{"type":"bar","size":3},"encoding":{
"x":{"field":"date","type":"temporal","scale":{"type":"utc"},"axis":null},
"y":{"field":"vol","type":"quantitative","stack":null,"scale":{"domain":[-223,653]},"axis":null},
"color":{"condition":{"test":"datum.side=='sell'","value":"#4f525b"},"value":"#8b8e97"}}},
{"layer":[
{"data":{"name":"candles"},"mark":{"type":"rule","strokeWidth":1},"encoding":{
"x":{"field":"date","type":"temporal","scale":{"type":"utc"},"axis":null},
"y":{"field":"low","type":"quantitative","scale":{"domain":[4.5,455.6]},"axis":null},"y2":{"field":"high"},
"color":{"condition":{"test":"datum.close>=datum.open","value":"#1f5a2c"},"value":"#7f1d26"}}},
{"data":{"name":"candles"},"mark":{"type":"bar","size":3},"encoding":{
"x":{"field":"date","type":"temporal","scale":{"type":"utc"},"axis":null},
"y":{"field":"open","type":"quantitative","scale":{"domain":[4.5,455.6]},"axis":null},"y2":{"field":"close"},
"color":{"condition":{"test":"datum.close>=datum.open","value":"#1f5a2c"},"value":"#7f1d26"}}},
{"data":{"name":"ma"},"mark":{"type":"line","color":"#4f6bd6","strokeWidth":1.8,"interpolate":"monotone"},"encoding":{
"x":{"field":"date","type":"temporal","scale":{"type":"utc"},"axis":null},
"y":{"field":"slow","type":"quantitative","scale":{"domain":[4.5,455.6]},"axis":null}}},
{"data":{"name":"ma"},"mark":{"type":"line","color":"#4351cc","strokeWidth":1.8,"interpolate":"monotone"},"encoding":{
"x":{"field":"date","type":"temporal","scale":{"type":"utc"},"axis":null},
"y":{"field":"fast","type":"quantitative","scale":{"domain":[4.5,455.6]},"axis":null}}},
{"data":{"name":"note"},"mark":{"type":"text","align":"left","baseline":"alphabetic","font":"DejaVu Sans","fontStyle":"italic","fontWeight":"bold","fontSize":16.7,"color":"#0a0a0f"},"encoding":{
"x":{"field":"date","type":"temporal","scale":{"type":"utc"},"axis":null},
"y":{"field":"price","type":"quantitative","scale":{"domain":[4.5,455.6]},"axis":null},
"text":{"field":"text"}}},
{"data":{"name":"badge"},"mark":{"type":"point","shape":"circle","filled":true,"size":500,"color":"#ffffff","stroke":"#7b2d9b","strokeWidth":1.5,"opacity":1},"encoding":{
"x":{"field":"date","type":"temporal","scale":{"type":"utc"},"axis":null},
"y":{"field":"price","type":"quantitative","scale":{"domain":[4.5,455.6]},"axis":null}}},
{"data":{"name":"badge"},"mark":{"type":"point","shape":"M.25,-1L-.6,.15L-.05,.15L-.25,1L.6,-.2L.05,-.2Z","filled":true,"size":220,"color":"#8e2fb0","opacity":1},"encoding":{
"x":{"field":"date","type":"temporal","scale":{"type":"utc"},"axis":null},
"y":{"field":"price","type":"quantitative","scale":{"domain":[4.5,455.6]},"axis":null}}},
{"data":{"name":"badgeDot"},"mark":{"type":"point","shape":"circle","filled":true,"size":35,"color":"#e0403a","opacity":1},"encoding":{
"x":{"field":"date","type":"temporal","scale":{"type":"utc"},"axis":null},
"y":{"field":"price","type":"quantitative","scale":{"domain":[4.5,455.6]},"axis":null}}}
]},
{"data":{"name":"macdPane"},"mark":{"type":"rect","fill":"#b2b5be"},"encoding":{
"x":{"field":"from","type":"temporal","scale":{"type":"utc"},"axis":null},"x2":{"field":"to"},
"y":{"field":"top","type":"quantitative","scale":{"domain":[4.5,455.6]},"axis":null},"y2":{"field":"bottom"}}},
{"layer":[
{"data":{"name":"macdZero"},"mark":{"type":"rule","color":"#8a8d97","strokeWidth":1,"strokeDash":[6,5]},"encoding":{
"x":{"field":"from","type":"temporal","scale":{"type":"utc"},"axis":null},"x2":{"field":"to"},
"y":{"field":"level","type":"quantitative","scale":{"domain":[-113.7,501.05]},"axis":{"orient":"right","offset":-93,"values":[0,40],"format":".1f"}}}},
{"data":{"name":"hist"},"mark":{"type":"bar","size":3},"encoding":{
"x":{"field":"date","type":"temporal","scale":{"type":"utc"},"axis":null},
"y":{"field":"hist","type":"quantitative","stack":null,"scale":{"domain":[-113.7,501.05]}},
"color":{"condition":[{"test":"datum.phase=='rise+'","value":"#26a08f"},{"test":"datum.phase=='fall+'","value":"#aedcd8"},{"test":"datum.phase=='fall-'","value":"#f65a5a"}],"value":"#fcc9d0"}}},
{"data":{"name":"macd"},"mark":{"type":"line","color":"#3f6cd0","strokeWidth":1.5,"interpolate":"monotone"},"encoding":{
"x":{"field":"date","type":"temporal","scale":{"type":"utc"},"axis":null},
"y":{"field":"macd","type":"quantitative","scale":{"domain":[-113.7,501.05]}}}},
{"data":{"name":"macd"},"mark":{"type":"line","color":"#d9853f","strokeWidth":1.5,"interpolate":"monotone"},"encoding":{
"x":{"field":"date","type":"temporal","scale":{"type":"utc"},"axis":null},
"y":{"field":"signal","type":"quantitative","scale":{"domain":[-113.7,501.05]}}}}
]},
{"layer":[
{"data":{"name":"months"},"mark":{"type":"text","align":"center","baseline":"middle","font":"Open Sans","fontSize":17,"color":"#50535e"},"encoding":{
"x":{"field":"date","type":"temporal","scale":{"type":"utc"},"axis":null},
"y":{"field":"price","type":"quantitative","scale":{"domain":[4.5,455.6]},"axis":null},
"text":{"field":"text"}}},
{"data":{"name":"gutterMask"},"mark":{"type":"rect","fill":"#b2b5be"},"encoding":{
"x":{"field":"from","type":"temporal","scale":{"type":"utc"},"axis":null},"x2":{"field":"to"},
"y":{"field":"top","type":"quantitative","scale":{"domain":[4.5,455.6]},"axis":null},"y2":{"field":"bottom"}}},
{"data":{"name":"frame"},"mark":{"type":"rect","fill":"#1e1e1e"},"encoding":{
"x":{"field":"from","type":"temporal","scale":{"type":"utc"},"axis":null},"x2":{"field":"to"},
"y":{"field":"top","type":"quantitative","scale":{"domain":[4.5,455.6]},"axis":null},"y2":{"field":"bottom"}}},
{"data":{"name":"hLines"},"mark":{"type":"rule","color":"#30333f","strokeWidth":1},"encoding":{
"x":{"field":"from","type":"temporal","scale":{"type":"utc"},"axis":null},"x2":{"field":"to"},
"y":{"field":"price","type":"quantitative","scale":{"domain":[4.5,455.6]},"axis":null}}},
{"data":{"name":"vLines"},"mark":{"type":"rule","color":"#4a4d59","strokeWidth":1},"encoding":{
"x":{"field":"date","type":"temporal","scale":{"type":"utc"},"axis":null},
"y":{"field":"top","type":"quantitative","scale":{"domain":[4.5,455.6]},"axis":null},"y2":{"field":"bottom"}}},
{"data":{"name":"tags"},"mark":{"type":"rect","cornerRadius":3},"encoding":{
"x":{"field":"from","type":"temporal","scale":{"type":"utc"},"axis":null},"x2":{"field":"to"},
"y":{"field":"top","type":"quantitative","scale":{"domain":[4.5,455.6]},"axis":null},"y2":{"field":"bottom"},
"color":{"condition":[{"test":"datum.kind=='usdt'","value":"#ffffff"},{"test":"datum.kind=='resistance'","value":"#801922"},{"test":"datum.kind=='last'","value":"#40434f"}],"value":"#1b5e20"}}},
{"data":{"name":"tagText"},"mark":{"type":"text","align":"left","baseline":"middle","font":"Open Sans","fontSize":17.5,"fontWeight":"bold","color":"#f4f4f4"},"encoding":{
"x":{"field":"date","type":"temporal","scale":{"type":"utc"},"axis":null},
"y":{"field":"price","type":"quantitative","scale":{"domain":[4.5,455.6]},"axis":null},
"text":{"field":"text"}}},
{"data":{"name":"countdown"},"mark":{"type":"text","align":"left","baseline":"middle","font":"Open Sans","fontSize":17,"color":"#d6d7db"},"encoding":{
"x":{"field":"date","type":"temporal","scale":{"type":"utc"},"axis":null},
"y":{"field":"price","type":"quantitative","scale":{"domain":[4.5,455.6]},"axis":null},
"text":{"field":"text"}}},
{"data":{"name":"unit"},"mark":{"type":"text","align":"left","baseline":"middle","font":"Open Sans","fontSize":14,"color":"#131722"},"encoding":{
"x":{"field":"date","type":"temporal","scale":{"type":"utc"},"axis":null},
"y":{"field":"price","type":"quantitative","scale":{"domain":[4.5,455.6]},"axis":null},
"text":{"field":"text"}}},
{"data":{"name":"legendLine"},"mark":{"type":"text","align":"left","baseline":"middle","font":"Open Sans","fontSize":14.6},"encoding":{
"x":{"field":"date","type":"temporal","scale":{"type":"utc"},"axis":null},
"y":{"field":"price","type":"quantitative","scale":{"domain":[4.5,455.6]},"axis":null},
"text":{"field":"text"},
"color":{"condition":{"test":"datum.tone=='value'","value":"#2c6a3c"},"value":"#5d606b"}}},
{"data":{"name":"brand"},"mark":{"type":"text","align":"left","baseline":"middle","font":"Inter","fontWeight":600,"fontSize":25,"color":"#e4e4e4"},"encoding":{
"x":{"field":"date","type":"temporal","scale":{"type":"utc"},"axis":null},
"y":{"field":"price","type":"quantitative","scale":{"domain":[4.5,455.6]},"axis":null},
"text":{"field":"text"}}},
{"data":{"name":"brandLogo"},"mark":{"type":"point","shape":"M-1,-.53L-.115,-.53L-.115,.48L-.558,.48L-.558,-.088L-1,-.088ZM.54,-.53L1,-.53L.504,.48L.115,.48ZM-.115,-.32a.177,.177 0 1,0 .354,0a.177,.177 0 1,0 -.354,0Z","filled":true,"size":1444,"color":"#e4e4e4","opacity":1},"encoding":{
"x":{"field":"date","type":"temporal","scale":{"type":"utc"},"axis":null},
"y":{"field":"price","type":"quantitative","scale":{"domain":[4.5,455.6]},"axis":null}}},
{"data":{"name":"credit"},"mark":{"type":"text","align":"left","baseline":"middle","font":"Open Sans","fontSize":23.5,"color":"#cfcfcf"},"encoding":{
"x":{"field":"date","type":"temporal","scale":{"type":"utc"},"axis":null},
"y":{"field":"price","type":"quantitative","scale":{"domain":[4.5,455.6]},"axis":null},
"text":{"field":"text"}}},
{"data":{"name":"creditLogo"},"mark":{"type":"point","shape":"M0,-.28L.28,0L0,.28L-.28,0ZM-.82,-.17L-.65,0L-.82,.17L-1,0ZM.82,-.17L1,0L.82,.17L.65,0ZM0,-1L.5,-.5L.3,-.3L0,-.6L-.3,-.3L-.5,-.5ZM0,1L-.5,.5L-.3,.3L0,.6L.3,.3L.5,.5Z","filled":true,"size":784,"color":"#cfcfcf","opacity":1},"encoding":{
"x":{"field":"date","type":"temporal","scale":{"type":"utc"},"axis":null},
"y":{"field":"price","type":"quantitative","scale":{"domain":[4.5,455.6]},"axis":null}}}
]}
]
}
